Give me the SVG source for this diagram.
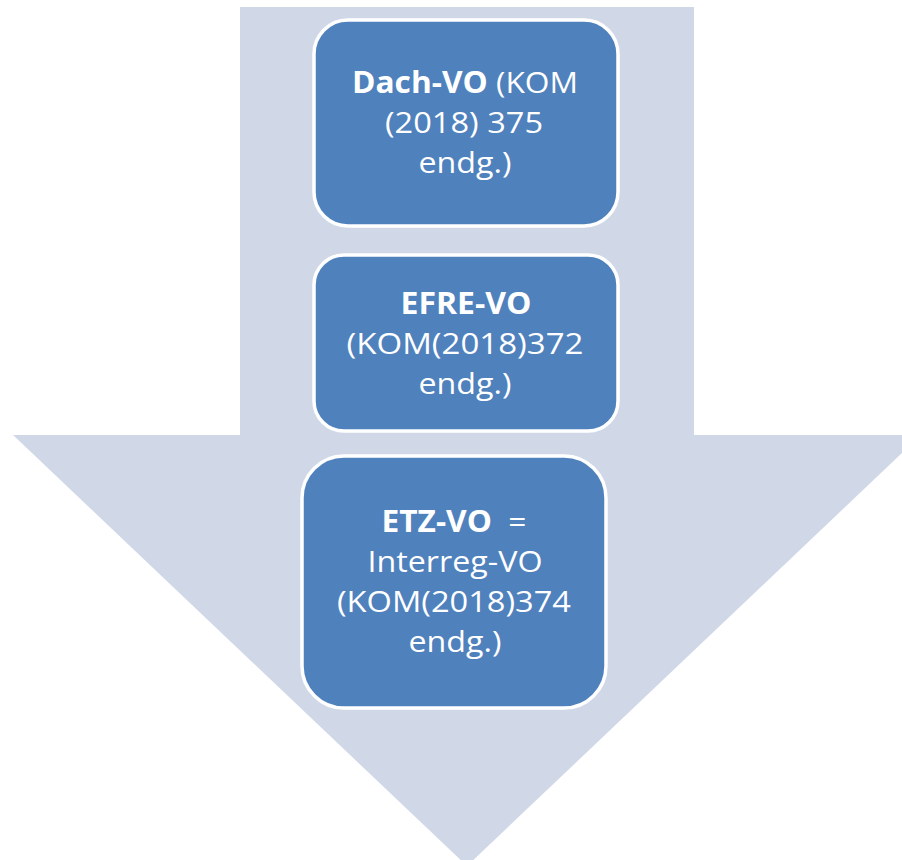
<svg xmlns="http://www.w3.org/2000/svg" width="902" height="860" viewBox="0 0 902 860">
<style>
.box{fill:#4F81BD;stroke:#FFFFFF;stroke-width:3.5}
.t{font-family:"Open Sans","Liberation Sans",sans-serif;font-size:30px;fill:#FFFFFF;text-anchor:middle}
.b{font-weight:bold}
</style>
<rect width="902" height="860" fill="#FFFFFF"/>
<g id="arrow">
<polygon points="240,7 694,7 694,435 921,435 467,866 13,435 240,435" fill="#D0D8E8"/>
</g>
<g id="connectors"></g>
<g id="node1">
<rect class="box" x="314" y="20" width="304" height="206" rx="34" ry="34"/>
<text class="t" x="465" y="93" textLength="226" lengthAdjust="spacingAndGlyphs"><tspan class="b">Dach-VO</tspan> (KOM</text>
<text class="t" x="464" y="133" textLength="158" lengthAdjust="spacingAndGlyphs">(2018) 375</text>
<text class="t" x="465" y="173" textLength="93" lengthAdjust="spacingAndGlyphs">endg.)</text>
</g>
<g id="node2">
<rect class="box" x="314" y="255" width="304" height="176" rx="30" ry="30"/>
<text class="t b" x="466" y="314" textLength="131" lengthAdjust="spacingAndGlyphs">EFRE-VO</text>
<text class="t" x="465" y="354" textLength="237" lengthAdjust="spacingAndGlyphs">(KOM(2018)372</text>
<text class="t" x="465" y="394" textLength="93" lengthAdjust="spacingAndGlyphs">endg.)</text>
</g>
<g id="node3">
<rect class="box" x="302" y="456" width="304" height="252" rx="42" ry="42"/>
<text class="t" x="454" y="532" textLength="145" lengthAdjust="spacingAndGlyphs" style="white-space:pre"><tspan class="b">ETZ-VO</tspan>  =</text>
<text class="t" x="455" y="572" textLength="175" lengthAdjust="spacingAndGlyphs">Interreg-VO</text>
<text class="t" x="454" y="612" textLength="234" lengthAdjust="spacingAndGlyphs">(KOM(2018)374</text>
<text class="t" x="455" y="652" textLength="93" lengthAdjust="spacingAndGlyphs">endg.)</text>
</g>
</svg>
